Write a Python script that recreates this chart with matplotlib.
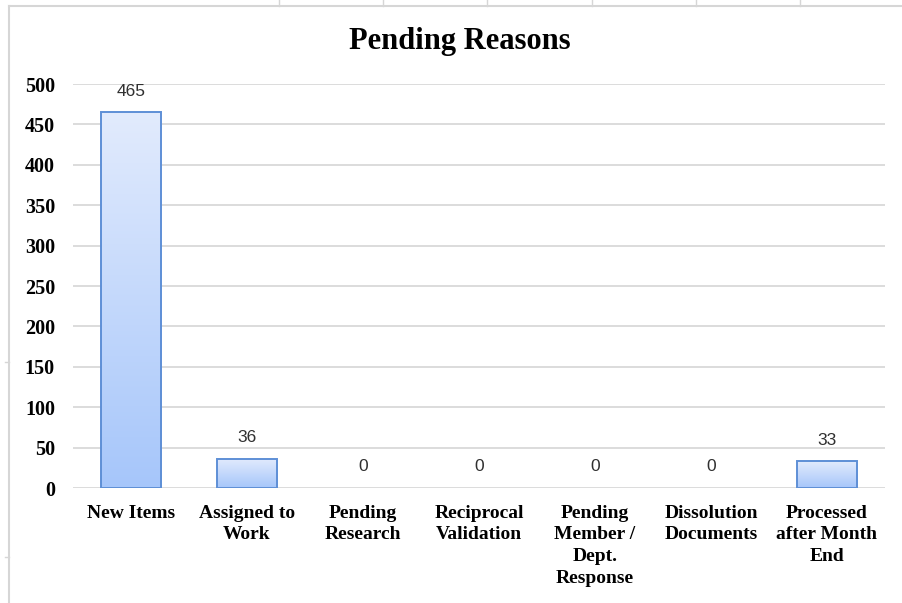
import numpy as np
import matplotlib
matplotlib.use("Agg")
import matplotlib.pyplot as plt
from matplotlib.colors import LinearSegmentedColormap
from matplotlib.lines import Line2D

categories = ["New Items", "Assigned to\nWork", "Pending\nResearch", "Reciprocal\nValidation",
              "Pending\nMember /\nDept.\nResponse", "Dissolution\nDocuments", "Processed\nafter Month\nEnd"]
counts = [465, 36, 0, 0, 0, 0, 33]
yticks = [0, 50, 100, 150, 200, 250, 300, 350, 400, 450, 500]

W, H = 902, 603
fig = plt.figure(figsize=(W / 100, H / 100), dpi=100)
ax = fig.add_axes([73 / W, 115 / H, 812 / W, 404 / H])

# gradient fill, light at the top of each bar, deeper blue at its base
grad = LinearSegmentedColormap.from_list("barfill", ["#a6c6fa", "#e2ebfd"])
gimg = np.linspace(0, 1, 256).reshape(-1, 1)

x = np.arange(len(categories))
bw = 0.52
lblfont = dict(fontsize=12.5, family="Liberation Sans", color="#303030")
bars = ax.bar(x, counts, width=bw, facecolor="none", edgecolor="#5e8fd6", linewidth=1.4, zorder=3)
for b, v in zip(bars, counts):
    if v <= 0:
        b.set_visible(False)
        continue
    im = ax.imshow(gimg, cmap=grad, origin="lower", aspect="auto", zorder=2,
                   extent=[b.get_x(), b.get_x() + bw, 0, v])
    im.set_clip_path(b)
for xi, v in zip(x, counts):
    ax.text(xi, v + 26, str(v), ha="center", va="center", **lblfont)

ax.set_xlim(-0.5, len(categories) - 0.5)
ax.set_ylim(0, 500)
ax.set_yticks(yticks)
ax.set_xticks(x)
ax.set_xticklabels(categories, family="Liberation Serif", fontweight="bold", fontsize=14,
                   linespacing=1.37, va="top")
ax.set_yticklabels([str(t) for t in yticks], family="Liberation Serif", fontweight="bold", fontsize=14.5)
ax.tick_params(axis="both", length=0)
ax.tick_params(axis="y", pad=13)
ax.tick_params(axis="x", pad=12)
ax.grid(axis="y", color="#d9d9d9", linewidth=1.3, zorder=0)
ax.set_axisbelow(True)
for s in ax.spines.values():
    s.set_visible(False)

fig.text(460 / W, 1 - 41 / H, "Pending Reasons", ha="center", va="center",
         family="Liberation Serif", fontweight="bold", fontsize=22)

# chart frame and cell markers around it
fc = "#d6d6d6"
fig.add_artist(Line2D([9 / W, 1], [1 - 6 / H, 1 - 6 / H], color=fc, linewidth=1.5))
fig.add_artist(Line2D([9 / W, 9 / W], [0, 1 - 6 / H], color=fc, linewidth=1.5))
for px in [279, 383, 487, 592, 696, 800]:
    fig.add_artist(Line2D([px / W, px / W], [1 - 6 / H, 1], color=fc, linewidth=1.0))
for py in [362, 557]:
    fig.add_artist(Line2D([5 / W, 9 / W], [1 - py / H, 1 - py / H], color=fc, linewidth=1.0))

fig.savefig("out.png", dpi=100)
